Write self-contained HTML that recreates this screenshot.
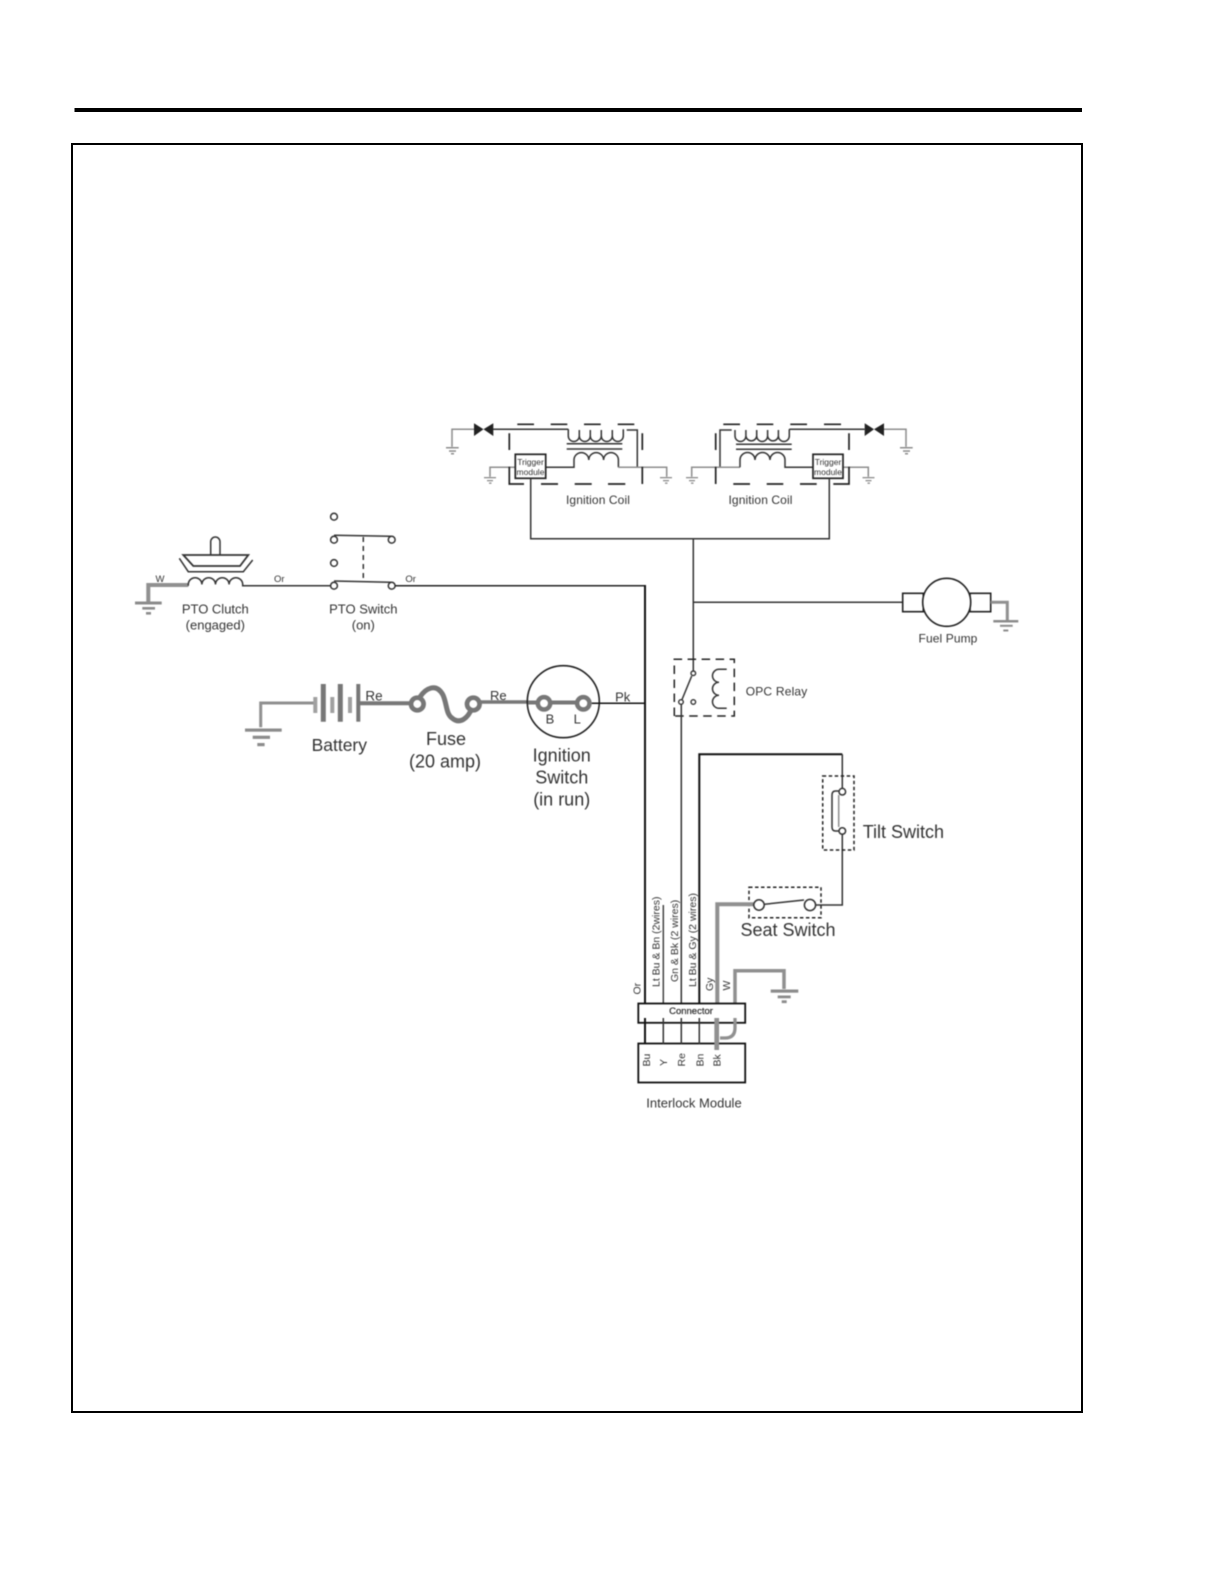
<!DOCTYPE html>
<html>
<head>
<meta charset="utf-8">
<style>
html,body{margin:0;padding:0;background:#fff;}
svg{display:block;}
text{font-family:"Liberation Sans",sans-serif;fill:#333;}
.w{fill:none;stroke:#333;stroke-width:1.5;}
.b{fill:none;stroke:#111;stroke-width:2;}
.g{fill:none;stroke:#8c8c8c;stroke-width:1.5;}
.t{fill:none;stroke:#909090;stroke-width:4;}
.h{fill:none;stroke:#777;stroke-width:4.5;}
.d{fill:none;stroke:#222;stroke-width:1.7;}
.gb{fill:#8c8c8c;}
.s9{font-size:9.5px;}
.s10{font-size:10.5px;}
.s12{font-size:12px;letter-spacing:.1px;}
.s13{font-size:13px;}
.s18{font-size:18px;}
.m{text-anchor:middle;}
.soft{filter:blur(.4px);}
</style>
</head>
<body>
<svg width="1222" height="1584" viewBox="0 0 1222 1584" xmlns="http://www.w3.org/2000/svg">
<rect width="1222" height="1584" fill="#fff"/>
<rect x="74.5" y="108" width="1007.5" height="4" fill="#000"/>
<rect x="72" y="144" width="1010" height="1268" fill="none" stroke="#000" stroke-width="2"/>

<g class="soft">
<!-- left ignition coil -->
<polygon points="474,423.3 474,436 483.5,429.3" fill="#222"/>
<polygon points="493.3,423.3 493.3,436 483.5,429.3" fill="#222"/>
<path class="g" d="M474,429.3H452V446.7"/>
<rect class="gb" x="446" y="447" width="12.7" height="1.5"/><rect class="gb" x="449" y="450.3" width="7" height="1.5"/><rect class="gb" x="451" y="453" width="3" height="1.5"/>
<path class="w" d="M493,429.3H568.3"/>
<path class="w" d="M568.3,429.3V436A5.5,5.5 0 0 0 579.3,436V430M579.3,436A5.5,5.5 0 0 0 590.3,436V430M590.3,436A5.5,5.5 0 0 0 601.3,436V430M601.3,436A5.5,5.5 0 0 0 612.3,436V430M612.3,436A5.5,5.5 0 0 0 623.3,436V429.3"/>
<path class="w" d="M566.7,443.8H622.3M566.7,449H622.3"/>
<path class="w" d="M626.7,430H637.3V467"/>
<path class="w" d="M546,467.3H574V460a7.4,7.4 0 0 1 14.8,0a7.4,7.4 0 0 1 14.8,0a7.4,7.4 0 0 1 14.8,0V467.3"/>
<path class="g" d="M618.3,467.3H666.7V476.7"/>
<rect class="gb" x="660" y="477" width="12" height="1.3"/><rect class="gb" x="663" y="480" width="6" height="1.3"/><rect class="gb" x="665" y="482.5" width="2.5" height="1.3"/>
<path class="g" d="M515,467.3H490V476.7"/>
<rect class="gb" x="484" y="477" width="12" height="1.3"/><rect class="gb" x="487" y="480" width="6" height="1.3"/><rect class="gb" x="489" y="482.5" width="2.5" height="1.3"/>
<rect x="515.3" y="454.3" width="30.4" height="24" fill="#fff" stroke="#222" stroke-width="1.7"/>
<text class="m" x="530.5" y="465" font-size="8.5">Trigger</text>
<text class="m" x="530.5" y="475" font-size="8.5">module</text>
<path class="d" d="M517.3,424.3H534M550.7,424.3H567.3M584,424.3H600.7M617.7,424.3H634.3M509.3,433.3V450M509.3,466.7V484H524M541,484H558M574.7,484H591.7M608,484H625.3M642.3,433.3V450M642.3,466.7V484"/>
<text class="s12 m" x="598" y="504">Ignition Coil</text>

<!-- right ignition coil -->
<polygon points="864.7,423.3 864.7,436 874,429.3" fill="#222"/>
<polygon points="884,423.3 884,436 874,429.3" fill="#222"/>
<path class="g" d="M884,429.3H906V446.7"/>
<rect class="gb" x="900" y="447" width="12.7" height="1.5"/><rect class="gb" x="903" y="450.3" width="7" height="1.5"/><rect class="gb" x="905" y="453" width="3" height="1.5"/>
<path class="w" d="M864.7,429.3H789.3"/>
<path class="w" d="M735,430V436A5.43,5.43 0 0 0 745.9,436V430M745.9,436A5.43,5.43 0 0 0 756.7,436V430M756.7,436A5.43,5.43 0 0 0 767.6,436V430M767.6,436A5.43,5.43 0 0 0 778.4,436V430M778.4,436A5.43,5.43 0 0 0 789.3,436V429.3"/>
<path class="w" d="M736,444.3H791.7M736,449.3H791.7"/>
<path class="w" d="M731.7,430H720V467"/>
<path class="g" d="M691.7,476.7V467.3H740"/>
<rect class="gb" x="686" y="477" width="12" height="1.3"/><rect class="gb" x="689" y="480" width="6" height="1.3"/><rect class="gb" x="691" y="482.5" width="2.5" height="1.3"/>
<path class="w" d="M740,467.3V460a7.5,7.5 0 0 1 15,0a7.5,7.5 0 0 1 15,0a7.5,7.5 0 0 1 15,0V467.3H813"/>
<path class="g" d="M843,467.3H868.3V476.7"/>
<rect class="gb" x="862.5" y="477" width="12" height="1.3"/><rect class="gb" x="865.5" y="480" width="6" height="1.3"/><rect class="gb" x="867.5" y="482.5" width="2.5" height="1.3"/>
<rect x="813" y="454.3" width="30" height="24" fill="#fff" stroke="#222" stroke-width="1.7"/>
<text class="m" x="828" y="465" font-size="8.5">Trigger</text>
<text class="m" x="828" y="475" font-size="8.5">module</text>
<path class="d" d="M723.3,424.3H740M756.7,424.3H773.3M790.3,424.3H807M824,424.3H841M715.7,433.3V450M715.7,466.7V484M849,433.3V450M849,466.7V484H833.3M733.3,484H750M766.7,484H783.3M800,484H816.7"/>
<text class="s12 m" x="760.5" y="504">Ignition Coil</text>

<!-- main wires -->
<path class="w" d="M530.7,478.3V538.7H829.3V478.3"/>
<path class="w" d="M693.3,538.7V671"/>
<path class="w" d="M693.3,602.3H902.7"/>

<!-- fuel pump -->
<rect x="902.7" y="593.3" width="20.6" height="18.4" fill="#fff" stroke="#222" stroke-width="1.6"/>
<rect x="970" y="593.3" width="20.7" height="18.4" fill="#fff" stroke="#222" stroke-width="1.6"/>
<circle cx="946.7" cy="602.3" r="24" fill="#fff" stroke="#222" stroke-width="1.6"/>
<path class="t" style="stroke-width:3" d="M990.7,602.3H1007.3V620"/>
<rect class="gb" x="993.3" y="620" width="25" height="2.5"/><rect class="gb" x="1000" y="624.8" width="12.7" height="2"/><rect class="gb" x="1003.3" y="629.5" width="5" height="2"/>
<text class="s12 m" x="948" y="642.7">Fuel Pump</text>

<!-- PTO clutch -->
<path class="t" d="M188.3,585H148.3V601.7"/>
<rect class="gb" x="135" y="601.5" width="26.7" height="3"/><rect class="gb" x="142.3" y="607" width="12.7" height="2.6"/><rect class="gb" x="146" y="612" width="5" height="2.6"/>
<text class="s9 m" x="160" y="582">W</text>
<path class="w" d="M188.3,585.7V584.5a6.8,6.8 0 0 1 13.6,0a6.8,6.8 0 0 1 13.6,0a6.8,6.8 0 0 1 13.6,0a6.8,6.8 0 0 1 13.6,0V585.7H330.5"/>
<text class="s9 m" x="279.3" y="582">Or</text>
<path class="w" d="M210.7,555V541.7a4.65,4.65 0 0 1 9.3,0V555"/>
<path class="w" style="stroke-width:1.8" d="M183.3,555H248.3L240,566H193.3Z"/>
<path class="w" d="M179.3,558.3L188.3,571.7H243.3L252.7,560"/>
<text class="s13 m" x="215.3" y="613.3">PTO Clutch</text>
<text class="s13 m" x="215.3" y="629.3">(engaged)</text>

<!-- PTO switch -->
<g fill="#fff" stroke="#333" stroke-width="1.5">
<circle cx="334" cy="516.7" r="3.4"/>
<circle cx="334" cy="539.7" r="3.4"/>
<circle cx="391.7" cy="539.7" r="3.4"/>
<circle cx="334" cy="563" r="3.4"/>
<circle cx="334" cy="585.7" r="3.4"/>
<circle cx="391.7" cy="585.7" r="3.4"/>
</g>
<path class="w" d="M334,535.3L391.7,536.3M334,581L391.7,582.3"/>
<path class="w" stroke-dasharray="5 4" d="M363.3,537V581"/>
<path class="w" style="stroke:#222" d="M395,585.7H645"/>
<text class="s9 m" x="410.7" y="582">Or</text>
<text class="s13 m" x="363.3" y="613.3">PTO Switch</text>
<text class="s13 m" x="363.3" y="629.3">(on)</text>

<!-- battery -->
<path class="t" style="stroke-width:3" d="M315,703H260.7V727.3"/>
<rect class="gb" x="245" y="728.5" width="36.7" height="3.2"/><rect class="gb" x="252.7" y="735.7" width="17.3" height="3.2"/><rect class="gb" x="257.3" y="743" width="7.3" height="3.2"/>
<path class="h" style="stroke-width:4;stroke:#a0a0a0" d="M315.3,697V713M332.3,697V713M350,697V713"/>
<path class="h" style="stroke-width:5" d="M323.3,684V721.7M340.3,684V721.7"/>
<path class="h" style="stroke-width:4" d="M358.3,684V721.7"/>
<path class="h" style="stroke-width:4" d="M358.3,703.3H412"/>
<text class="s13 m" x="374" y="700.7" style="font-size:13.5px">Re</text>
<text class="s18 m" x="339.3" y="751" style="font-size:17.5px">Battery</text>

<!-- fuse -->
<path class="h" style="stroke-width:5" d="M420,697C425,689 436,682 443,695C447,704 446,714 452,718C460,725 468,718 472,708"/>
<circle cx="417.3" cy="704" r="6.3" fill="#fff" stroke="#777" stroke-width="4.7"/>
<circle cx="473.3" cy="704" r="6.3" fill="#fff" stroke="#777" stroke-width="4.7"/>
<path class="h" style="stroke-width:3.5" d="M479.5,702H528.3"/>
<text class="s13 m" x="498.3" y="700">Re</text>
<text class="s18 m" x="446" y="745">Fuse</text>
<text class="s18 m" x="445" y="767.3">(20 amp)</text>

<!-- ignition switch -->
<circle cx="563.3" cy="701.7" r="36" fill="none" stroke="#222" stroke-width="1.6"/>
<path class="h" style="stroke-width:4" d="M528,702.5H583"/>
<circle cx="544" cy="703.3" r="6.2" fill="#fff" stroke="#777" stroke-width="4.5"/>
<circle cx="583.3" cy="703.3" r="6.2" fill="#fff" stroke="#777" stroke-width="4.5"/>
<text class="s13 m" x="550" y="723.3">B</text>
<text class="s13 m" x="577.3" y="723.3">L</text>
<path class="w" style="stroke:#111" d="M591.7,703.3H645"/>
<text class="s13 m" x="622.7" y="701.5">Pk</text>
<text class="s18 m" x="561.7" y="761.7">Ignition</text>
<text class="s18 m" x="561.7" y="783.3">Switch</text>
<text class="s18 m" x="561.7" y="805.7">(in run)</text>

<!-- OPC relay -->
<path class="d" style="stroke-width:1.5" stroke-dasharray="8.5 5.5" d="M674.3,716V659.3H734.3V716H674.3"/>
<path class="w" d="M681,702L691.7,676"/>
<circle cx="693.3" cy="673.3" r="2.3" fill="#fff" stroke="#333" stroke-width="1.4"/>
<circle cx="693.3" cy="702" r="2.3" fill="#fff" stroke="#333" stroke-width="1.4"/>
<circle cx="681" cy="702" r="2.3" fill="#fff" stroke="#333" stroke-width="1.4"/>
<path class="w" d="M726.7,669.3H719a6.5,6.5 0 0 0 0,13a6.5,6.5 0 0 0 0,13a6.5,6.5 0 0 0 0,13H726.7"/>
<text class="s12" x="745.7" y="695.7" style="letter-spacing:.2px">OPC Relay</text>

<!-- vertical bus -->
<path class="b" d="M645,585V1004"/>
<path class="g" style="stroke:#444" d="M663.3,905V1004"/>
<path class="w" d="M681.3,704.5V1004"/>
<path class="b" d="M699.3,1004V754.3H842.3"/>
<path class="w" d="M842.3,754.3V788.4"/>
<circle cx="842.3" cy="791.7" r="3.3" fill="#fff" stroke="#333" stroke-width="1.5"/>
<circle cx="842.3" cy="831" r="3.3" fill="#fff" stroke="#333" stroke-width="1.5"/>
<path class="w" d="M839,791H835.5Q832,791 832,795V827Q832,831 835.5,831H839"/>
<path class="g" d="M838.7,795V827"/>
<path class="w" d="M842.3,834.3V905H816"/>
<rect x="822.7" y="776" width="31.3" height="74" fill="none" stroke="#222" stroke-width="1.5" stroke-dasharray="3.5 2.5"/>
<text class="s18" x="862.7" y="838">Tilt Switch</text>

<!-- seat switch -->
<rect x="749" y="887.3" width="72" height="30.4" fill="none" stroke="#222" stroke-width="1.5" stroke-dasharray="3.5 2.5"/>
<path class="t" d="M717.3,1004V904.3H753.5"/>
<path class="w" d="M764.3,904.3L804,900"/>
<circle cx="759" cy="905" r="5.2" fill="#fff" stroke="#333" stroke-width="1.5"/>
<circle cx="810" cy="905" r="5.6" fill="#fff" stroke="#333" stroke-width="1.5"/>
<text class="s18 m" x="788" y="936">Seat Switch</text>

<!-- W ground -->
<path class="t" style="stroke-width:3.5" d="M735,1004V970.7H784V989"/>
<rect class="gb" x="770.7" y="989.5" width="27.6" height="3.2"/><rect class="gb" x="777.7" y="995.5" width="13" height="2.8"/><rect class="gb" x="781.7" y="1000.3" width="5" height="2.8"/>

<!-- rotated labels -->
<text class="s10" transform="translate(640.5,994.5) rotate(-90)">Or</text>
<text class="s10" transform="translate(659.5,987) rotate(-90)">Lt Bu &amp; Bn (2wires)</text>
<text class="s10" transform="translate(678,982) rotate(-90)">Gn &amp; Bk (2 wires)</text>
<text class="s10" transform="translate(696,987) rotate(-90)">Lt Bu &amp; Gy (2 wires)</text>
<text class="s10" transform="translate(713,991) rotate(-90)">Gy</text>
<text class="s10" transform="translate(730,990.5) rotate(-90)">W</text>

<!-- connector -->
<rect x="638.3" y="1003.5" width="106.9" height="19.3" fill="#fff" stroke="#111" stroke-width="1.8"/>
<text x="691" y="1014" class="m" font-size="9.5" stroke="#333" stroke-width=".25">Connector</text>
<rect x="638.3" y="1043.5" width="106.9" height="39" fill="#fff" stroke="#111" stroke-width="1.8"/>
<path class="b" d="M645,1018V1044"/>
<path class="w" d="M663.3,1018V1044M681.3,1018V1044M699.3,1018V1044"/>
<path class="t" style="stroke-width:4.7" d="M716.7,1018V1050"/>
<path class="t" style="stroke-width:3.3" d="M735,1018V1028Q735,1038 725,1038H720"/>
<text class="s10" transform="translate(650,1066.5) rotate(-90)">Bu</text>
<text class="s10" transform="translate(667,1066) rotate(-90)">Y</text>
<text class="s10" transform="translate(685,1066.5) rotate(-90)">Re</text>
<text class="s10" transform="translate(703.5,1066.5) rotate(-90)">Bn</text>
<text class="s10" transform="translate(720.5,1066.5) rotate(-90)">Bk</text>
<text class="s13 m" x="694" y="1107.3">Interlock Module</text>
</g>
</svg>
</body>
</html>
